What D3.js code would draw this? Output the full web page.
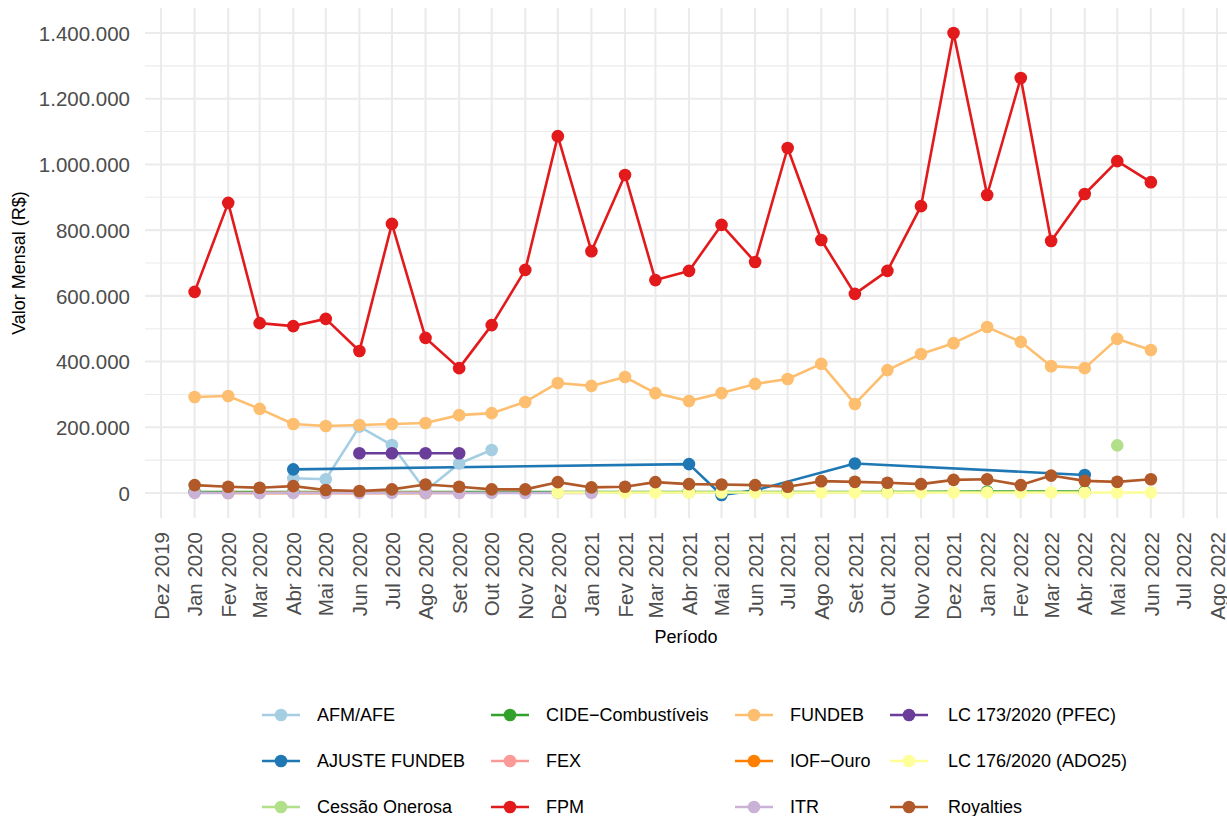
<!DOCTYPE html>
<html><head><meta charset="utf-8">
<script src="https://cdn.jsdelivr.net/npm/d3@7"></script>
<style>
body{margin:0;background:#fff}
text{font-family:"Liberation Sans",Arial,Helvetica,sans-serif}
</style>
</head><body>
<svg id="chart" width="1227" height="816"></svg>
<script>
// ---------- DATA ----------
const periodos = ["2020-01","2020-02","2020-03","2020-04","2020-05","2020-06","2020-07","2020-08","2020-09","2020-10","2020-11","2020-12",
  "2021-01","2021-02","2021-03","2021-04","2021-05","2021-06","2021-07","2021-08","2021-09","2021-10","2021-11","2021-12",
  "2022-01","2022-02","2022-03","2022-04","2022-05","2022-06"];
const tickPeriodos = ["2019-12","2020-01","2020-02","2020-03","2020-04","2020-05","2020-06","2020-07","2020-08","2020-09","2020-10","2020-11","2020-12",
  "2021-01","2021-02","2021-03","2021-04","2021-05","2021-06","2021-07","2021-08","2021-09","2021-10","2021-11","2021-12",
  "2022-01","2022-02","2022-03","2022-04","2022-05","2022-06","2022-07","2022-08"];
const tickLabels = ["Dez 2019","Jan 2020","Fev 2020","Mar 2020","Abr 2020","Mai 2020","Jun 2020","Jul 2020","Ago 2020","Set 2020","Out 2020","Nov 2020","Dez 2020",
  "Jan 2021","Fev 2021","Mar 2021","Abr 2021","Mai 2021","Jun 2021","Jul 2021","Ago 2021","Set 2021","Out 2021","Nov 2021","Dez 2021",
  "Jan 2022","Fev 2022","Mar 2022","Abr 2022","Mai 2022","Jun 2022","Jul 2022","Ago 2022"];
const yTicks = [0,200000,400000,600000,800000,1000000,1200000,1400000];
const yMinor = [100000,300000,500000,700000,900000,1100000,1300000];

const seriesNames = ["AFM/AFE","AJUSTE FUNDEB","Cessão Onerosa","CIDE−Combustíveis","FEX","FPM","FUNDEB","IOF−Ouro","ITR","LC 173/2020 (PFEC)","LC 176/2020 (ADO25)","Royalties"];
const seriesColors = ["#A6CEE3","#1F78B4","#B2DF8A","#33A02C","#FB9A99","#E31A1C","#FDBF6F","#FF7F00","#CAB2D6","#6A3D9A","#FFFF99","#B15928"];

const N = null;
const afmAfe       = [N,N,N,45000,42000,202000,146000,7000,90000,131000,N,N, N,N,N,N,N,N,N,N,N,N,N,N, N,N,N,N,N,N];
const ajusteFundeb = [N,N,N,72000,N,N,N,N,N,N,N,N, N,N,N,88000,-6000,8000,N,N,90000,N,N,N, N,N,N,55000,N,N];
const cessaoOnerosa= [N,N,N,N,N,N,N,N,N,N,N,N, N,N,N,N,N,N,N,N,N,N,N,N, N,N,N,N,145000,N];
const cide         = [3000,N,N,3000,N,N,3000,N,N,3000,N,N, 3000,N,N,3000,N,N,3000,N,N,3000,N,N, 4500,N,N,4500,N,N];
const fex          = [N,N,500,N,N,N,N,N,500,N,N,N, N,N,N,N,N,N,N,N,N,N,N,N, N,N,N,N,N,N];
const fpm          = [612000,883000,517000,508000,530000,432000,819000,472000,380000,511000,679000,1086000,
                      736000,968000,648000,676000,816000,703000,1050000,770000,606000,676000,873000,1400000,
                      907000,1263000,767000,910000,1010000,946000];
const fundeb       = [292000,295000,256000,210000,204000,207000,210000,213000,237000,243000,277000,335000,
                      326000,353000,304000,280000,304000,332000,347000,393000,271000,374000,423000,456000,
                      505000,460000,386000,380000,469000,435000];
const iofOuro      = [N,200,N,N,N,N,N,200,N,N,N,N, N,N,N,N,N,N,N,N,N,N,N,N, N,N,N,N,N,N];
const itr          = [300,200,200,300,200,200,300,200,200,300,200,500, 300,N,N,N,N,N,N,N,N,N,N,N, N,N,N,N,N,N];
const lc173        = [N,N,N,N,N,121000,121000,121000,121000,N,N,N, N,N,N,N,N,N,N,N,N,N,N,N, N,N,N,N,N,N];
const lc176        = [N,N,N,N,N,N,N,N,N,N,N,1500, N,1500,1500,1500,1500,1500,1500,1500,1500,1500,1500,1500,
                      1500,1500,1500,1500,1500,1500];
const royalties    = [24000,19000,16000,21000,9000,6000,11000,26000,19000,11000,11000,33000,
                      17000,19000,33000,27000,26000,24000,19000,36000,34000,31000,27000,40000,
                      42000,24000,53000,37000,34000,42000];

const seriesValues = [afmAfe,ajusteFundeb,cessaoOnerosa,cide,fex,fpm,fundeb,iofOuro,itr,lc173,lc176,royalties];

// ---------- CHART ----------
const parseM = d3.utcParse("%Y-%m");
const svg = d3.select("#chart");
const panel = {left:145, right:1227, top:8, bottom:518};

const x = d3.scaleUtc()
  .domain([parseM("2019-12"), parseM("2022-08")])
  .range([161, 1217]);
const y = d3.scaleLinear()
  .domain([0, 1400000])
  .range([493, 33]);

const series = seriesNames.map((name,i)=>({
  name, color: seriesColors[i],
  pts: periodos.map((p,j)=>({d: parseM(p), v: seriesValues[i][j]})).filter(o=>o.v!==null)
}));

// grid
const g = svg.append("g");
g.selectAll(".ymin").data(yMinor).enter().append("line")
  .attr("x1",panel.left).attr("x2",panel.right)
  .attr("y1",d=>y(d)).attr("y2",d=>y(d))
  .attr("stroke","#EBEBEB").attr("stroke-width",1.1);
g.selectAll(".ymaj").data(yTicks).enter().append("line")
  .attr("x1",panel.left).attr("x2",panel.right)
  .attr("y1",d=>y(d)).attr("y2",d=>y(d))
  .attr("stroke","#EBEBEB").attr("stroke-width",2.1);
g.selectAll(".xmaj").data(tickPeriodos).enter().append("line")
  .attr("x1",d=>x(parseM(d))).attr("x2",d=>x(parseM(d)))
  .attr("y1",panel.top).attr("y2",panel.bottom)
  .attr("stroke","#EBEBEB").attr("stroke-width",2.1);

// axes
const ptBR = d3.formatLocale({decimal:",", thousands:".", grouping:[3], currency:["R$ ",""]});
const yAxis = d3.axisLeft(y).tickValues(yTicks).tickFormat(ptBR.format(",d")).tickSize(0).tickPadding(15);
const ya = svg.append("g").attr("transform",`translate(${panel.left},0)`).call(yAxis);
ya.select(".domain").remove();
ya.selectAll("text").attr("fill","#4D4D4D").style("font-size","20.5px").attr("dy","0.35em");

const tickDates = tickPeriodos.map(parseM);
const xAxis = d3.axisBottom(x).tickValues(tickDates).tickFormat((d,i)=>tickLabels[i]).tickSize(0);
const xa = svg.append("g").attr("transform",`translate(0,${panel.bottom})`).call(xAxis);
xa.select(".domain").remove();
xa.selectAll("text")
  .attr("fill","#4D4D4D").style("font-size","20.5px")
  .attr("transform","rotate(-90)")
  .attr("x",-14).attr("y",0).attr("dy","0.35em")
  .attr("text-anchor","end");

// titles
svg.append("text").attr("x",(panel.left+panel.right)/2).attr("y",643)
  .attr("text-anchor","middle").style("font-size","18px").attr("fill","#000").text("Período");
svg.append("text").attr("transform",`translate(25,${(panel.top+panel.bottom)/2}) rotate(-90)`)
  .attr("text-anchor","middle").style("font-size","18px").attr("fill","#000").text("Valor Mensal (R$)");

// lines then points
const line = d3.line().x(d=>x(d.d)).y(d=>y(d.v));
const lg = svg.append("g");
series.forEach(s=>{
  if(s.pts.length>1){
    lg.append("path").datum(s.pts).attr("d",line)
      .attr("fill","none").attr("stroke",s.color).attr("stroke-width",2.6)
      .attr("stroke-linejoin","round");
  }
});
const pg = svg.append("g");
series.forEach(s=>{
  pg.selectAll(null).data(s.pts).enter().append("circle")
    .attr("cx",d=>x(d.d)).attr("cy",d=>y(d.v)).attr("r",6.3).attr("fill",s.color);
});

// legend
const colKeyX = [262, 491, 735, 890];
const colTextX = [317, 546, 790, 948];
const rowY = [715, 761, 807];
const leg = svg.append("g");
series.forEach((s,i)=>{
  const c = Math.floor(i/3), r = i%3;
  const gy = rowY[r];
  leg.append("line").attr("x1",colKeyX[c]).attr("x2",colKeyX[c]+38)
    .attr("y1",gy).attr("y2",gy).attr("stroke",s.color).attr("stroke-width",2.6);
  leg.append("circle").attr("cx",colKeyX[c]+19).attr("cy",gy).attr("r",6.3).attr("fill",s.color);
  leg.append("text").attr("x",colTextX[c]).attr("y",gy).attr("dy","0.35em")
    .style("font-size","18px").attr("fill","#000").text(s.name);
});
</script>
</body></html>
